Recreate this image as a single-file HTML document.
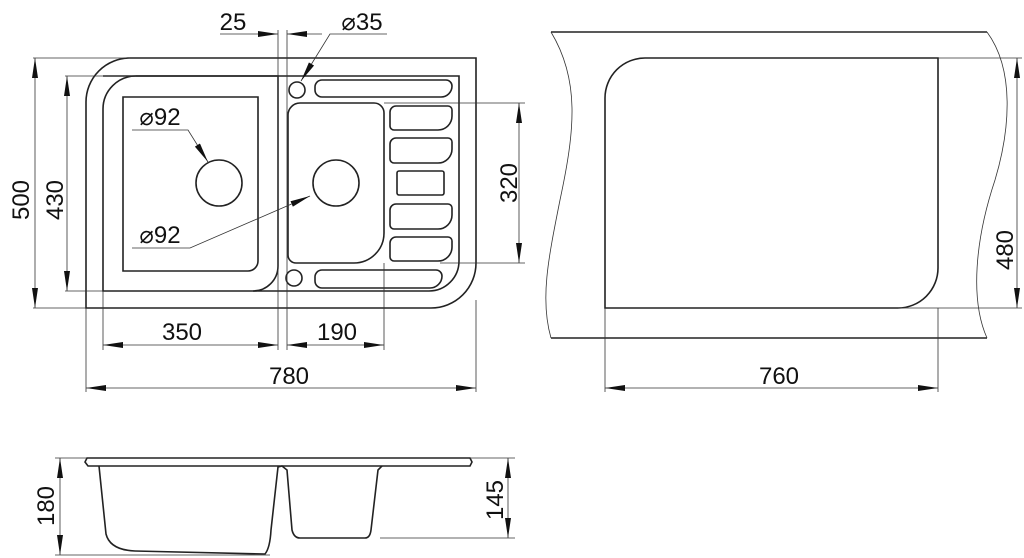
<!DOCTYPE html>
<html><head><style>html,body{margin:0;padding:0;background:#fff}svg{display:block}text{font-family:"Liberation Sans",sans-serif;font-size:24px;fill:#111}</style></head><body>
<svg width="1024" height="558" viewBox="0 0 1024 558" xmlns="http://www.w3.org/2000/svg">
<defs>
<marker id="a" viewBox="0 0 20 6" refX="20" refY="3" markerWidth="20" markerHeight="6" markerUnits="userSpaceOnUse" orient="auto-start-reverse"><path d="M0,0L20,3L0,6Z" fill="#111"/></marker>
</defs>
<g fill="none" stroke="#222" stroke-width="1.6">
<path d="M130,58H476V263A45,45 0 0 1 431,308H86V102A44,44 0 0 1 130,58Z"/>
<path d="M136,76H459V261A30,30 0 0 1 429,291H103V109A33,33 0 0 1 136,76Z"/>
<path d="M103,76H278V266A25,25 0 0 1 253,291"/>
<path d="M123,97H258V261A10,10 0 0 1 248,271H123Z"/>
<path d="M300,103H374A10,10 0 0 1 384,113V233A30,30 0 0 1 354,263H296A8,8 0 0 1 288,255V115A12,12 0 0 1 300,103Z"/>
<circle cx="297" cy="90" r="8"/><circle cx="294" cy="278" r="8"/>
<circle cx="219" cy="183" r="23"/><circle cx="336" cy="183" r="23"/>
<path d="M322,80H446A6,6 0 0 1 452,86A11,11 0 0 1 441,97H322A7,7 0 0 1 315,90V87A7,7 0 0 1 322,80Z"/>
<path d="M322,270H436A6,6 0 0 1 442,276A12,12 0 0 1 430,288H322A7,7 0 0 1 315,281V277A7,7 0 0 1 322,270Z"/>
<path d="M396,106H448A4,4 0 0 1 452,110V116A14,14 0 0 1 438,130H394A4,4 0 0 1 390,126V112A6,6 0 0 1 396,106Z"/>
<path d="M396,138H448A4,4 0 0 1 452,142V149A14,14 0 0 1 438,163H394A4,4 0 0 1 390,159V144A6,6 0 0 1 396,138Z"/>
<rect x="397" y="171" width="47" height="24" rx="2"/>
<path d="M396,204H448A4,4 0 0 1 452,208V215A14,14 0 0 1 438,229H394A4,4 0 0 1 390,225V210A6,6 0 0 1 396,204Z"/>
<path d="M396,237H448A4,4 0 0 1 452,241V247A14,14 0 0 1 438,261H394A4,4 0 0 1 390,257V243A6,6 0 0 1 396,237Z"/>
<path d="M551,32H987M551,338H987"/>
<path d="M645,58H938V268A40,40 0 0 1 898,308H605V98A40,40 0 0 1 645,58Z"/>
<path d="M87,458H470L472,462L470,466H88L85,462Z"/>
<path d="M99,466L106,534Q110,550 135,551L265,554Q270,548 271,530L278,467L282,466L287,470L292,530Q294,538 300,538H365Q370,538 371,530L378,470L382,466"/>
</g>
<g fill="none" stroke="#333" stroke-width="0.8">
<path d="M551,32C580,80 575,130 560,200C548,260 540,300 551,338"/>
<path d="M987,32C1015,70 1010,130 995,180C975,240 970,300 987,338"/>
<path d="M33,58H130M65,76H136M33,308H86M65,291H103"/>
<path d="M278,30V350M287,30V350M86,308V392M103,291V350M384,263V350M476,300V392"/>
<path d="M384,103H525M440,263H525"/>
<path d="M938,58H1022M898,308H1022M605,308V392M938,308V392"/>
<path d="M55,458H87M55,555H270M380,538H515M470,458H515"/>
<path d="M35,58V308" marker-start="url(#a)" marker-end="url(#a)"/>
<path d="M67,76V291" marker-start="url(#a)" marker-end="url(#a)"/>
<path d="M519,103V263" marker-start="url(#a)" marker-end="url(#a)"/>
<path d="M103,345H278" marker-start="url(#a)" marker-end="url(#a)"/>
<path d="M287,345H384" marker-start="url(#a)" marker-end="url(#a)"/>
<path d="M86,388H476" marker-start="url(#a)" marker-end="url(#a)"/>
<path d="M605,388H938" marker-start="url(#a)" marker-end="url(#a)"/>
<path d="M1017,58V308" marker-start="url(#a)" marker-end="url(#a)"/>
<path d="M60,458V555" marker-start="url(#a)" marker-end="url(#a)"/>
<path d="M508,458V538" marker-start="url(#a)" marker-end="url(#a)"/>
<path d="M220,34H278" marker-end="url(#a)"/>
<path d="M322,34H287" marker-end="url(#a)"/>
<path d="M387,34H330L301,81" marker-end="url(#a)"/>
<path d="M132,130H188L208,162" marker-end="url(#a)"/>
<path d="M132,248H190L310,196" marker-end="url(#a)"/>
</g>
<text x="233" y="30" text-anchor="middle">25</text>
<text x="362" y="30" text-anchor="middle">⌀35</text>
<text x="160" y="125" text-anchor="middle">⌀92</text>
<text x="160" y="243" text-anchor="middle">⌀92</text>
<text x="182" y="340" text-anchor="middle">350</text>
<text x="337" y="340" text-anchor="middle">190</text>
<text x="289" y="384" text-anchor="middle">780</text>
<text x="779" y="384" text-anchor="middle">760</text>
<text transform="translate(29,200) rotate(-90)" text-anchor="middle">500</text>
<text transform="translate(63,200) rotate(-90)" text-anchor="middle">430</text>
<text transform="translate(517,183) rotate(-90)" text-anchor="middle">320</text>
<text transform="translate(1013,250) rotate(-90)" text-anchor="middle">480</text>
<text transform="translate(54,506) rotate(-90)" text-anchor="middle">180</text>
<text transform="translate(503,500) rotate(-90)" text-anchor="middle">145</text>
</svg>
</body></html>
